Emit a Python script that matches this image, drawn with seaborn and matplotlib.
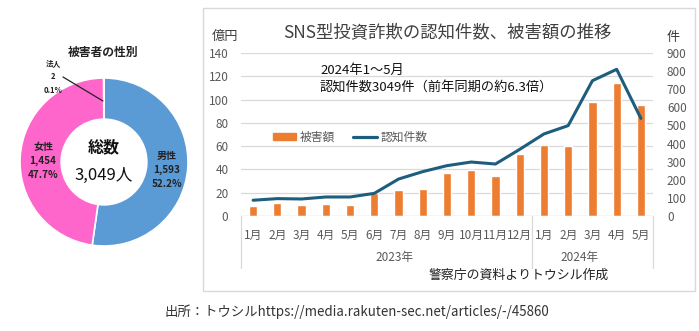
import numpy as np
import pandas as pd
import matplotlib
matplotlib.use("Agg")
import matplotlib.pyplot as plt
from matplotlib.patches import Rectangle, Patch
from matplotlib.lines import Line2D
import matplotlib.transforms as mtransforms
import seaborn as sns

# ---------------- data ----------------
gender_labels = ["男性", "女性", "法人"]
gender_counts = [1593, 1454, 2]
gender_pcts = ["52.2%", "47.7%", "0.1%"]
total_label = "3,049人"

periods = ["2023-01", "2023-02", "2023-03", "2023-04", "2023-05", "2023-06",
           "2023-07", "2023-08", "2023-09", "2023-10", "2023-11", "2023-12",
           "2024-01", "2024-02", "2024-03", "2024-04", "2024-05"]
month_labels = ["1月", "2月", "3月", "4月", "5月", "6月", "7月", "8月", "9月",
                "10月", "11月", "12月", "1月", "2月", "3月", "4月", "5月"]
year_labels = ["2023年", "2024年"]
damage = [8.5, 11.4, 9.1, 10.6, 9.1, 19.5, 22.3, 22.9, 36.6, 39.4, 34.3, 52.9,
          60.8, 59.7, 97.9, 114.6, 95.7]          # 億円
reports = [87, 96, 94, 105, 105, 125, 204, 245, 278, 298, 287, 368,
           453, 499, 747, 810, 539]               # 件
left_ticks = [0, 20, 40, 60, 80, 100, 120, 140]
right_ticks = [0, 100, 200, 300, 400, 500, 600, 700, 800, 900]

# ---------------- style ----------------
sns.set_theme(style="white")
plt.rcParams["font.family"] = ["Noto Sans CJK JP", "DejaVu Sans"]

W, H = 699, 331
fig = plt.figure(figsize=(W / 100, H / 100), dpi=100)
fig.patch.set_facecolor("white")

def fx(px):
    return px / W

def fy(py):
    return 1 - py / H

BLUE = "#5B9BD5"
PINK = "#FF66CC"
ORANGE = "#ED7D31"
NAVY = "#1D5E7E"
GRAY = "#595959"

# chart area border
fig.patches.append(Rectangle((fx(203), fy(291)), fx(695) - fx(203), fy(8) - fy(291),
                             transform=fig.transFigure, fill=False,
                             edgecolor="#D9D9D9", lw=1.0, zorder=0))

# ---------------- donut ----------------
cx, cy, R = 104, 162, 84
axp = fig.add_axes([fx(cx - 86), fy(cy + 86), fx(172), 172 / H])
wedges, _ = axp.pie(gender_counts, colors=[BLUE, PINK, "#A5A5A5"], startangle=90,
                    counterclock=False, radius=R / 86,
                    wedgeprops=dict(width=0.49 * R / 86, edgecolor="white", linewidth=1.2))
axp.set_xlim(-1, 1)
axp.set_ylim(-1, 1)
axp.set_aspect("equal")
axp.axis("off")

fig.text(fx(103), fy(52), "被害者の性別", ha="center", va="center",
         fontsize=8.5, fontweight="bold", color="#222222")
fig.text(fx(104), fy(147), "総数", ha="center", va="center",
         fontsize=11.5, fontweight="bold", color="#111111")
fig.text(fx(104), fy(175), total_label, ha="center", va="center",
         fontsize=12, color="#111111")
fig.text(fx(167), fy(170), f"{gender_labels[0]}\n{gender_counts[0]:,}\n{gender_pcts[0]}",
         ha="center", va="center", fontsize=7.2, fontweight="bold",
         color="#222222", linespacing=1.5)
fig.text(fx(43), fy(161), f"{gender_labels[1]}\n{gender_counts[1]:,}\n{gender_pcts[1]}",
         ha="center", va="center", fontsize=7.2, fontweight="bold",
         color="#222222", linespacing=1.5)
fig.text(fx(53), fy(77), f"{gender_labels[2]}\n{gender_counts[2]}\n{gender_pcts[2]}",
         ha="center", va="center", fontsize=5.5, fontweight="bold",
         color="#222222", linespacing=1.6)
fig.lines.append(Line2D([fx(63), fx(103)], [fy(77), fy(101)],
                        transform=fig.transFigure, color="#222222", lw=0.9))

# ---------------- combo chart ----------------
x0, x1, ytop, ybot = 241, 653, 53, 216
ax = fig.add_axes([fx(x0), fy(ybot), fx(x1) - fx(x0), fy(ytop) - fy(ybot)])
df = pd.DataFrame({"period": periods, "damage": damage, "reports": reports})
sns.barplot(data=df, x="period", y="damage", order=periods, color=ORANGE,
            saturation=1, width=0.34, ax=ax, zorder=2)
ax.set_xlim(-0.5, len(periods) - 0.5)
ax.set_ylim(0, 140)
ax.set_yticks(left_ticks)
ax.yaxis.grid(True, color="#D9D9D9", lw=0.9)
ax.set_axisbelow(True)
for s in ax.spines.values():
    s.set_visible(False)
ax.set_xlabel("")
ax.set_ylabel("")
ax.set_xticks(range(len(periods)))
ax.set_xticklabels(month_labels, fontsize=8.5, color=GRAY)
ax.tick_params(axis="x", length=0, pad=9)
ax.tick_params(axis="y", length=0, pad=9, labelsize=8.5, labelcolor=GRAY)

ax2 = ax.twinx()
sns.lineplot(x=np.arange(len(periods)), y=reports, color=NAVY, lw=2.2, ax=ax2)
ax2.set_ylim(0, 900)
ax2.set_yticks(right_ticks)
ax2.tick_params(axis="y", length=0, pad=10, labelsize=8.5, labelcolor=GRAY)
for s in ax2.spines.values():
    s.set_visible(False)
ax2.set_ylabel("")
ax2.grid(False)

# multi-level category separators
trans = mtransforms.blended_transform_factory(ax.transData, ax.transAxes)
ybottom = -(268 - ybot) / (ybot - ytop)
for xs in [-0.5, 11.5, len(periods) - 0.5]:
    ax.plot([xs, xs], [0, ybottom], transform=trans, color="#D9D9D9",
            lw=0.9, clip_on=False)
ax.axhline(0, color="#D9D9D9", lw=0.9)
fig.text(fx(395), fy(258), year_labels[0], ha="center", va="center",
         fontsize=8.5, color=GRAY)
fig.text(fx(580), fy(258), year_labels[1], ha="center", va="center",
         fontsize=8.5, color=GRAY)

# titles and texts
fig.text(fx(447), fy(32), "SNS型投資詐欺の認知件数、被害額の推移", ha="center",
         va="center", fontsize=12.5, color="#404040")
fig.text(fx(225), fy(36), "億円", ha="center", va="center", fontsize=9.5, color="#404040")
fig.text(fx(673), fy(37), "件", ha="center", va="center", fontsize=9.5, color="#404040")
fig.text(fx(320), fy(70), "2024年1～5月", ha="left", va="center",
         fontsize=9.5, color="#111111")
fig.text(fx(320), fy(87), "認知件数3049件（前年同期の約6.3倍）", ha="left",
         va="center", fontsize=9.5, color="#111111")
fig.text(fx(519), fy(275), "警察庁の資料よりトウシル作成", ha="center",
         va="center", fontsize=9.3, color="#222222")

# legend
handles = [Patch(facecolor=ORANGE, edgecolor=ORANGE),
           Line2D([0], [0], color=NAVY, lw=2.3)]
fig.legend(handles, ["被害額", "認知件数"], loc="center",
           bbox_to_anchor=(fx(350), fy(137)), ncol=2, frameon=False,
           fontsize=8.5, labelcolor=GRAY, handlelength=2.0, handleheight=0.6,
           columnspacing=1.5, handletextpad=0.3)

fig.text(fx(357), fy(312), "出所：トウシルhttps://media.rakuten-sec.net/articles/-/45860",
         ha="center", va="center", fontsize=9.6, color="#333333")

fig.savefig("out.png", dpi=100, facecolor="white")
